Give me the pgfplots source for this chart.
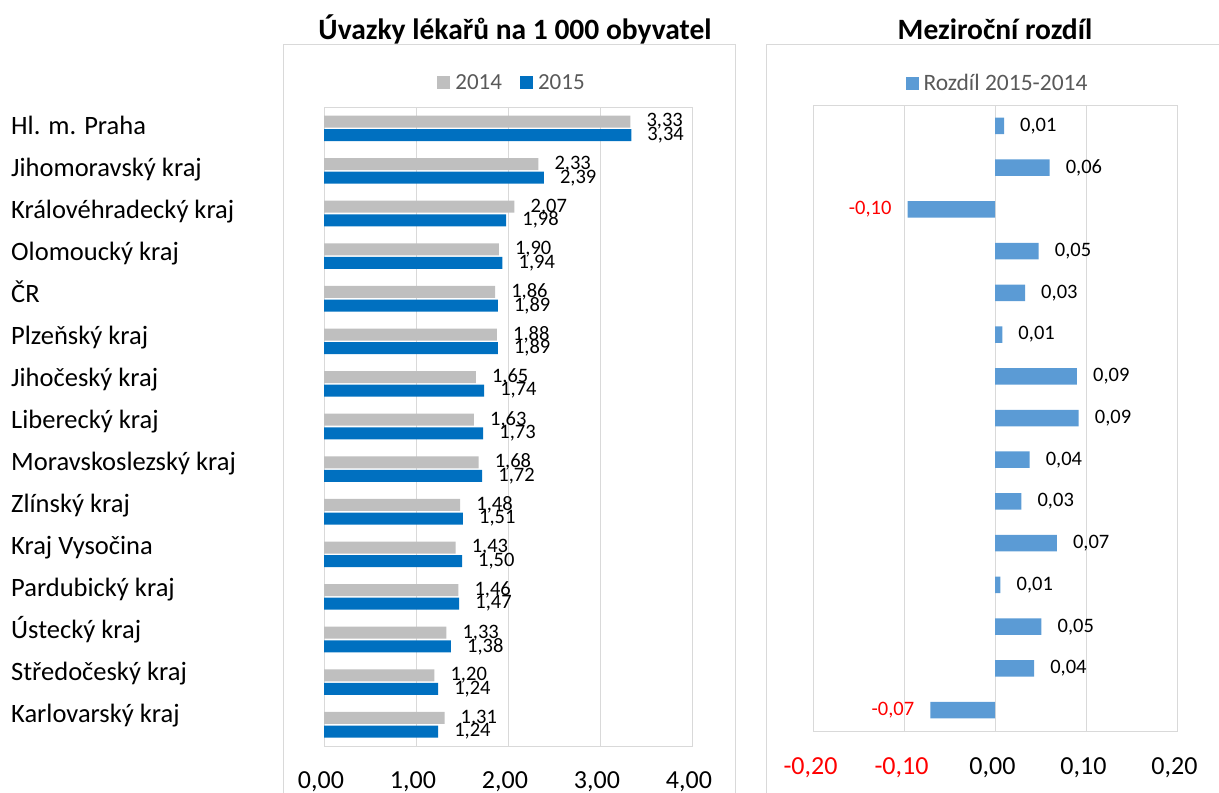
\documentclass[border=0pt]{standalone}
\usepackage{pgfplots}
\pgfplotsset{compat=1.18}
\usepackage{pgfplotstable}
\usepackage{fontspec}
\setmainfont{Carlito}
\definecolor{g14}{HTML}{BFBFBF}
\definecolor{b15}{HTML}{0070C0}
\definecolor{dif}{HTML}{5B9BD5}
\definecolor{frame}{HTML}{D9D9D9}
\definecolor{legtext}{HTML}{595959}
\newcommand{\fs}[1]{\fontsize{#1}{#1}\selectfont}

\pgfplotstableread{
idx v14 v15
14 3.33 3.34
13 2.33 2.39
12 2.07 1.98
11 1.90 1.94
10 1.86 1.89
9 1.88 1.89
8 1.65 1.74
7 1.63 1.73
6 1.68 1.72
5 1.48 1.51
4 1.43 1.50
3 1.46 1.47
2 1.33 1.38
1 1.20 1.24
0 1.31 1.24
}\datatab

\pgfplotstableread{
idx d
14 0.0099
13 0.060
11 0.048
10 0.033
9 0.008
8 0.090
7 0.092
6 0.038
5 0.029
4 0.068
3 0.006
2 0.051
1 0.043
}\posdiff

\pgfplotstableread{
idx d
12 -0.096
0 -0.071
}\negdiff

\begin{document}
\begin{tikzpicture}[x=1pt,y=1pt]
\useasboundingbox (0,0) rectangle (1219,-793);
\draw[frame, line width=1pt] (283,-800) |- (735,-44) -- (735,-800);
\draw[frame, line width=1pt] (766,-800) |- (1230,-44);
\node[font=\bfseries\fs{29.5}, anchor=base] at (515,-39.5) {Úvazky lékařů na 1 000 obyvatel};
\node[font=\bfseries\fs{29.5}, anchor=base] at (995,-39.5) {Meziroční rozdíl};

% category labels
\begin{axis}[
  at={(10pt,-105pt)}, anchor=north west, scale only axis,
  width=1pt, height=631pt,
  xmin=0, xmax=1, ymin=-0.5, ymax=14.5,
  xtick=\empty, ytick={0,...,14},
  yticklabels={Karlovarský kraj, Středočeský kraj, Ústecký kraj, Pardubický kraj, Kraj Vysočina, Zlínský kraj, Moravskoslezský kraj, Liberecký kraj, Jihočeský kraj, Plzeňský kraj, ČR, Olomoucký kraj, Královéhradecký kraj, Jihomoravský kraj, Hl. m. Praha},
  yticklabel pos=right,
  yticklabel style={anchor=base west, inner sep=0pt, yshift=-8pt, font=\fs{26.5}},
  axis line style={draw=none}, major tick length=0pt,
]
\end{axis}

% left chart
\begin{axis}[
  at={(324pt,-107pt)}, anchor=north west, scale only axis,
  width=368pt, height=639pt,
  xmin=0, xmax=4, ymin=-0.5, ymax=14.5,
  xtick={0,1,2,3,4}, ytick=\empty,
  xmajorgrids, grid style={frame, line width=1pt},
  axis line style={frame, line width=1pt},
  major tick length=0pt,
  xticklabel style={font=\fs{26}, anchor=base, yshift=-42.5pt, xshift=-3pt},
  /pgf/number format/fixed, /pgf/number format/fixed zerofill,
  /pgf/number format/precision=2, /pgf/number format/use comma,
  /pgf/number format/assume math mode=true,
  xbar, bar width=12pt,
  nodes near coords,
  nodes near coords style={font=\fs{20.5}, inner sep=0pt, xshift=16pt},
  legend style={at={(0.511,1.0376)}, anchor=center, draw=none, fill=none,
    legend columns=2, font=\fs{23}\color{legtext},
    /tikz/every odd column/.append style={column sep=3pt},
    /tikz/every even column/.append style={column sep=16pt}},
  legend image code/.code={\fill[#1] (0pt,-6.5pt) rectangle (13pt,6.5pt);},
]
\addplot[fill=g14, draw=none, bar shift=6.8pt] table[x=v14, y=idx] {\datatab};
\addplot[fill=b15, draw=none, bar shift=-6.8pt] table[x=v15, y=idx] {\datatab};
\legend{2014,2015}
\end{axis}

% right chart
\begin{axis}[
  at={(813pt,-105pt)}, anchor=north west, scale only axis,
  width=364pt, height=626pt,
  xmin=-0.2, xmax=0.2, ymin=-0.5, ymax=14.5,
  xtick={-0.2,-0.1,0,0.1,0.2},
  xticklabels={{\textcolor{red}{-0,20}},{\textcolor{red}{-0,10}},{0,00},{0,10},{0,20}},
  ytick=\empty,
  xmajorgrids, grid style={frame, line width=1pt},
  axis line style={frame, line width=1pt},
  major tick length=0pt,
  xticklabel style={font=\fs{26}, anchor=base, yshift=-43pt, xshift=-2.5pt},
  /pgf/number format/fixed, /pgf/number format/fixed zerofill,
  /pgf/number format/precision=2, /pgf/number format/use comma,
  /pgf/number format/assume math mode=true,
  xbar, bar width=16.5pt,
  legend style={at={(0.507,1.035)}, anchor=center, draw=none, fill=none,
    font=\fs{23.5}\color{legtext},
    /tikz/every odd column/.append style={column sep=3pt}},
  legend image code/.code={\fill[#1] (0pt,-6.5pt) rectangle (13pt,6.5pt);},
]
\addplot[fill=dif, draw=none, bar shift=0pt, nodes near coords,
  nodes near coords style={font=\fs{20.5}, inner sep=0pt, xshift=16pt}]
  table[x=d, y=idx] {\posdiff};
\addplot[fill=dif, draw=none, bar shift=0pt, forget plot, nodes near coords,
  nodes near coords style={font=\fs{20.5}, inner sep=0pt, xshift=-16pt, text=red}]
  table[x=d, y=idx] {\negdiff};
\legend{Rozdíl 2015-2014}
\end{axis}
\end{tikzpicture}
\end{document}
